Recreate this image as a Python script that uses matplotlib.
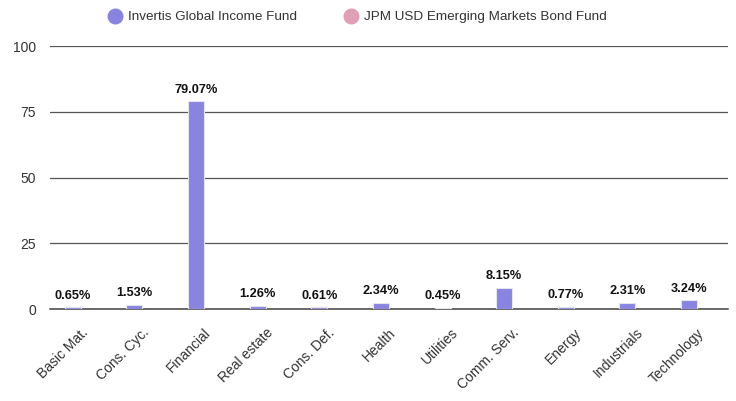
import matplotlib.pyplot as plt
import numpy as np
from matplotlib.lines import Line2D

plt.rcParams['font.family'] = ['Liberation Sans', 'DejaVu Sans']

sectors = ['Basic Mat.', 'Cons. Cyc.', 'Financial', 'Real estate', 'Cons. Def.', 'Health',
           'Utilities', 'Comm. Serv.', 'Energy', 'Industrials', 'Technology']
invertis = [0.65, 1.53, 79.07, 1.26, 0.61, 2.34, 0.45, 8.15, 0.77, 2.31, 3.24]
jpm = [0, 0, 0, 0, 0, 0, 0, 0, 0, 0, 0]
series_names = ['Invertis Global Income Fund', 'JPM USD Emerging Markets Bond Fund']
colors = ['#8884e0', '#e09fb2']

fig = plt.figure(figsize=(7.36, 4.01), dpi=100)
ax = fig.add_axes([0.068, 0.2294, 0.921, 0.6558])

x = np.arange(len(sectors))
w = 0.26
bars = ax.bar(x - w / 2, invertis, width=w, color=colors[0], edgecolor='#e4e4ee', linewidth=0.8, zorder=3)
ax.bar(x + w / 2, jpm, width=w, color=colors[1], edgecolor='none', zorder=3)

for b, v in zip(bars, invertis):
    ax.annotate(f'{v:.2f}%', (b.get_x() + b.get_width() / 2, v), xytext=(0, 4),
                textcoords='offset points', ha='center', va='bottom',
                fontsize=9.2, fontweight='bold', color='#111111')

ax.set_xlim(-0.5, len(sectors) - 0.5)
ax.set_ylim(0, 100)
ax.set_yticks([0, 25, 50, 75, 100])
ax.yaxis.grid(True, color='#555555', linewidth=0.9, zorder=0)
ax.set_axisbelow(True)
for s in ['top', 'right', 'left']:
    ax.spines[s].set_visible(False)
ax.spines['bottom'].set_color('#444444')
ax.spines['bottom'].set_linewidth(1.1)
ax.tick_params(axis='y', length=0, pad=10, labelsize=10, labelcolor='#333333')
ax.tick_params(axis='x', length=0, pad=12, labelsize=10, labelcolor='#333333')
ax.set_xticks(x)
ax.set_xticklabels(sectors, rotation=45, ha='right', va='top', rotation_mode='anchor')

handles = [Line2D([], [], marker='o', linestyle='none', markersize=10.5, markerfacecolor=c,
                  markeredgecolor=c) for c in colors]
fig.legend(handles, series_names, loc='center', bbox_to_anchor=(0.485, 0.957), ncol=2,
           frameon=False, fontsize=9.7, handlelength=1.2, handletextpad=0.35,
           columnspacing=3.4, labelcolor='#333333')

fig.savefig('out.png', dpi=100)
